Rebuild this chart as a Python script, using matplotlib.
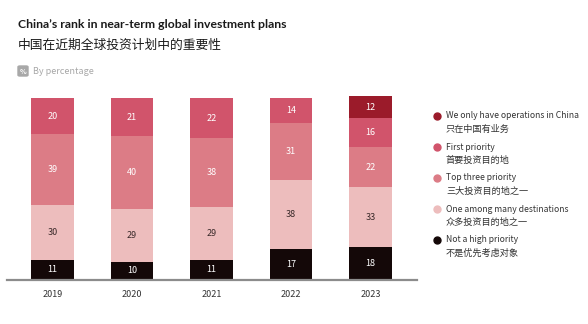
import matplotlib
matplotlib.use("Agg")
import matplotlib.pyplot as plt
from matplotlib.lines import Line2D
from matplotlib.patches import FancyBboxPatch

plt.rcParams['font.family'] = ['Noto Sans CJK SC', 'DejaVu Sans']

years = ["2019", "2020", "2021", "2022", "2023"]
not_high = [11, 10, 11, 17, 18]
one_among_many = [30, 29, 29, 38, 33]
top_three = [39, 40, 38, 31, 22]
first_priority = [20, 21, 22, 14, 16]
only_china = [0, 0, 0, 0, 12]

series = [
    (not_high, "#140808", "white", "Not a high priority", "不是优先考虑对象"),
    (one_among_many, "#EDBDBD", "#3a2a2a", "One among many destinations", "众多投资目的地之一"),
    (top_three, "#DC7C86", "white", "Top three priority", "三大投资目的地之一"),
    (first_priority, "#D1546B", "white", "First priority", "首要投资目的地"),
    (only_china, "#9B1B2A", "white", "We only have operations in China", "只在中国有业务"),
]

fig = plt.figure(figsize=(5.88, 3.24), dpi=100)
ax = fig.add_axes([7 / 588, 44 / 324, 410 / 588, 182 / 324])

x = list(range(len(years)))
bottom = [0] * len(years)
for vals, color, tcol, _, _ in series:
    ax.bar(x, vals, width=0.54, bottom=bottom, color=color, clip_on=False, zorder=2)
    for i, v in enumerate(vals):
        if v > 0:
            ax.text(i, bottom[i] + v / 2, str(v), ha="center", va="center",
                    fontsize=6.5, color=tcol, zorder=3)
    bottom = [b + v for b, v in zip(bottom, vals)]

ax.set_xlim(-0.572, 4.585)
ax.set_ylim(0, 100)
for s in ["top", "right", "left"]:
    ax.spines[s].set_visible(False)
ax.spines["bottom"].set_color("#8c8c8c")
ax.spines["bottom"].set_linewidth(1.6)
ax.set_yticks([])
ax.set_xticks(x)
ax.set_xticklabels(years, fontsize=6.5, color="#333333")
ax.tick_params(axis="x", length=0, pad=7)

# titles
fig.text(18 / 588, 1 - 25 / 324, "China’s rank in near-term global investment plans",
         fontsize=8.8, fontweight="bold", color="#1a1a1a", va="center", family="Lato")
fig.text(18 / 588, 1 - 45 / 324, "中国在近期全球投资计划中的重要性",
         fontsize=9.2, color="#1a1a1a", va="center")
icon = FancyBboxPatch((18 / 588, 1 - 76 / 324), 10 / 588, 10 / 324,
                      boxstyle="round,pad=0,rounding_size=0.003",
                      transform=fig.transFigure, color="#a8a8a8")
fig.patches.append(icon)
fig.text(23 / 588, 1 - 71 / 324, "%", fontsize=5, color="white",
         ha="center", va="center", fontweight="bold")
fig.text(33 / 588, 1 - 71 / 324, "By percentage", fontsize=6.5, color="#a8a8a8",
         style="italic", va="center")

# legend
legend_y = [116, 147, 178, 209, 240]
for (vals, color, _, en, zh), y in zip(series[::-1], legend_y):
    fig.add_artist(Line2D([437 / 588], [1 - y / 324], marker="o", markersize=5,
                          color=color, linestyle="none", transform=fig.transFigure))
    fig.text(446 / 588, 1 - y / 324, en, fontsize=6.2, color="#333333", va="center")
    fig.text(446 / 588, 1 - (y + 13) / 324, zh, fontsize=6.6, color="#333333", va="center")

fig.savefig("out.png", dpi=100)
